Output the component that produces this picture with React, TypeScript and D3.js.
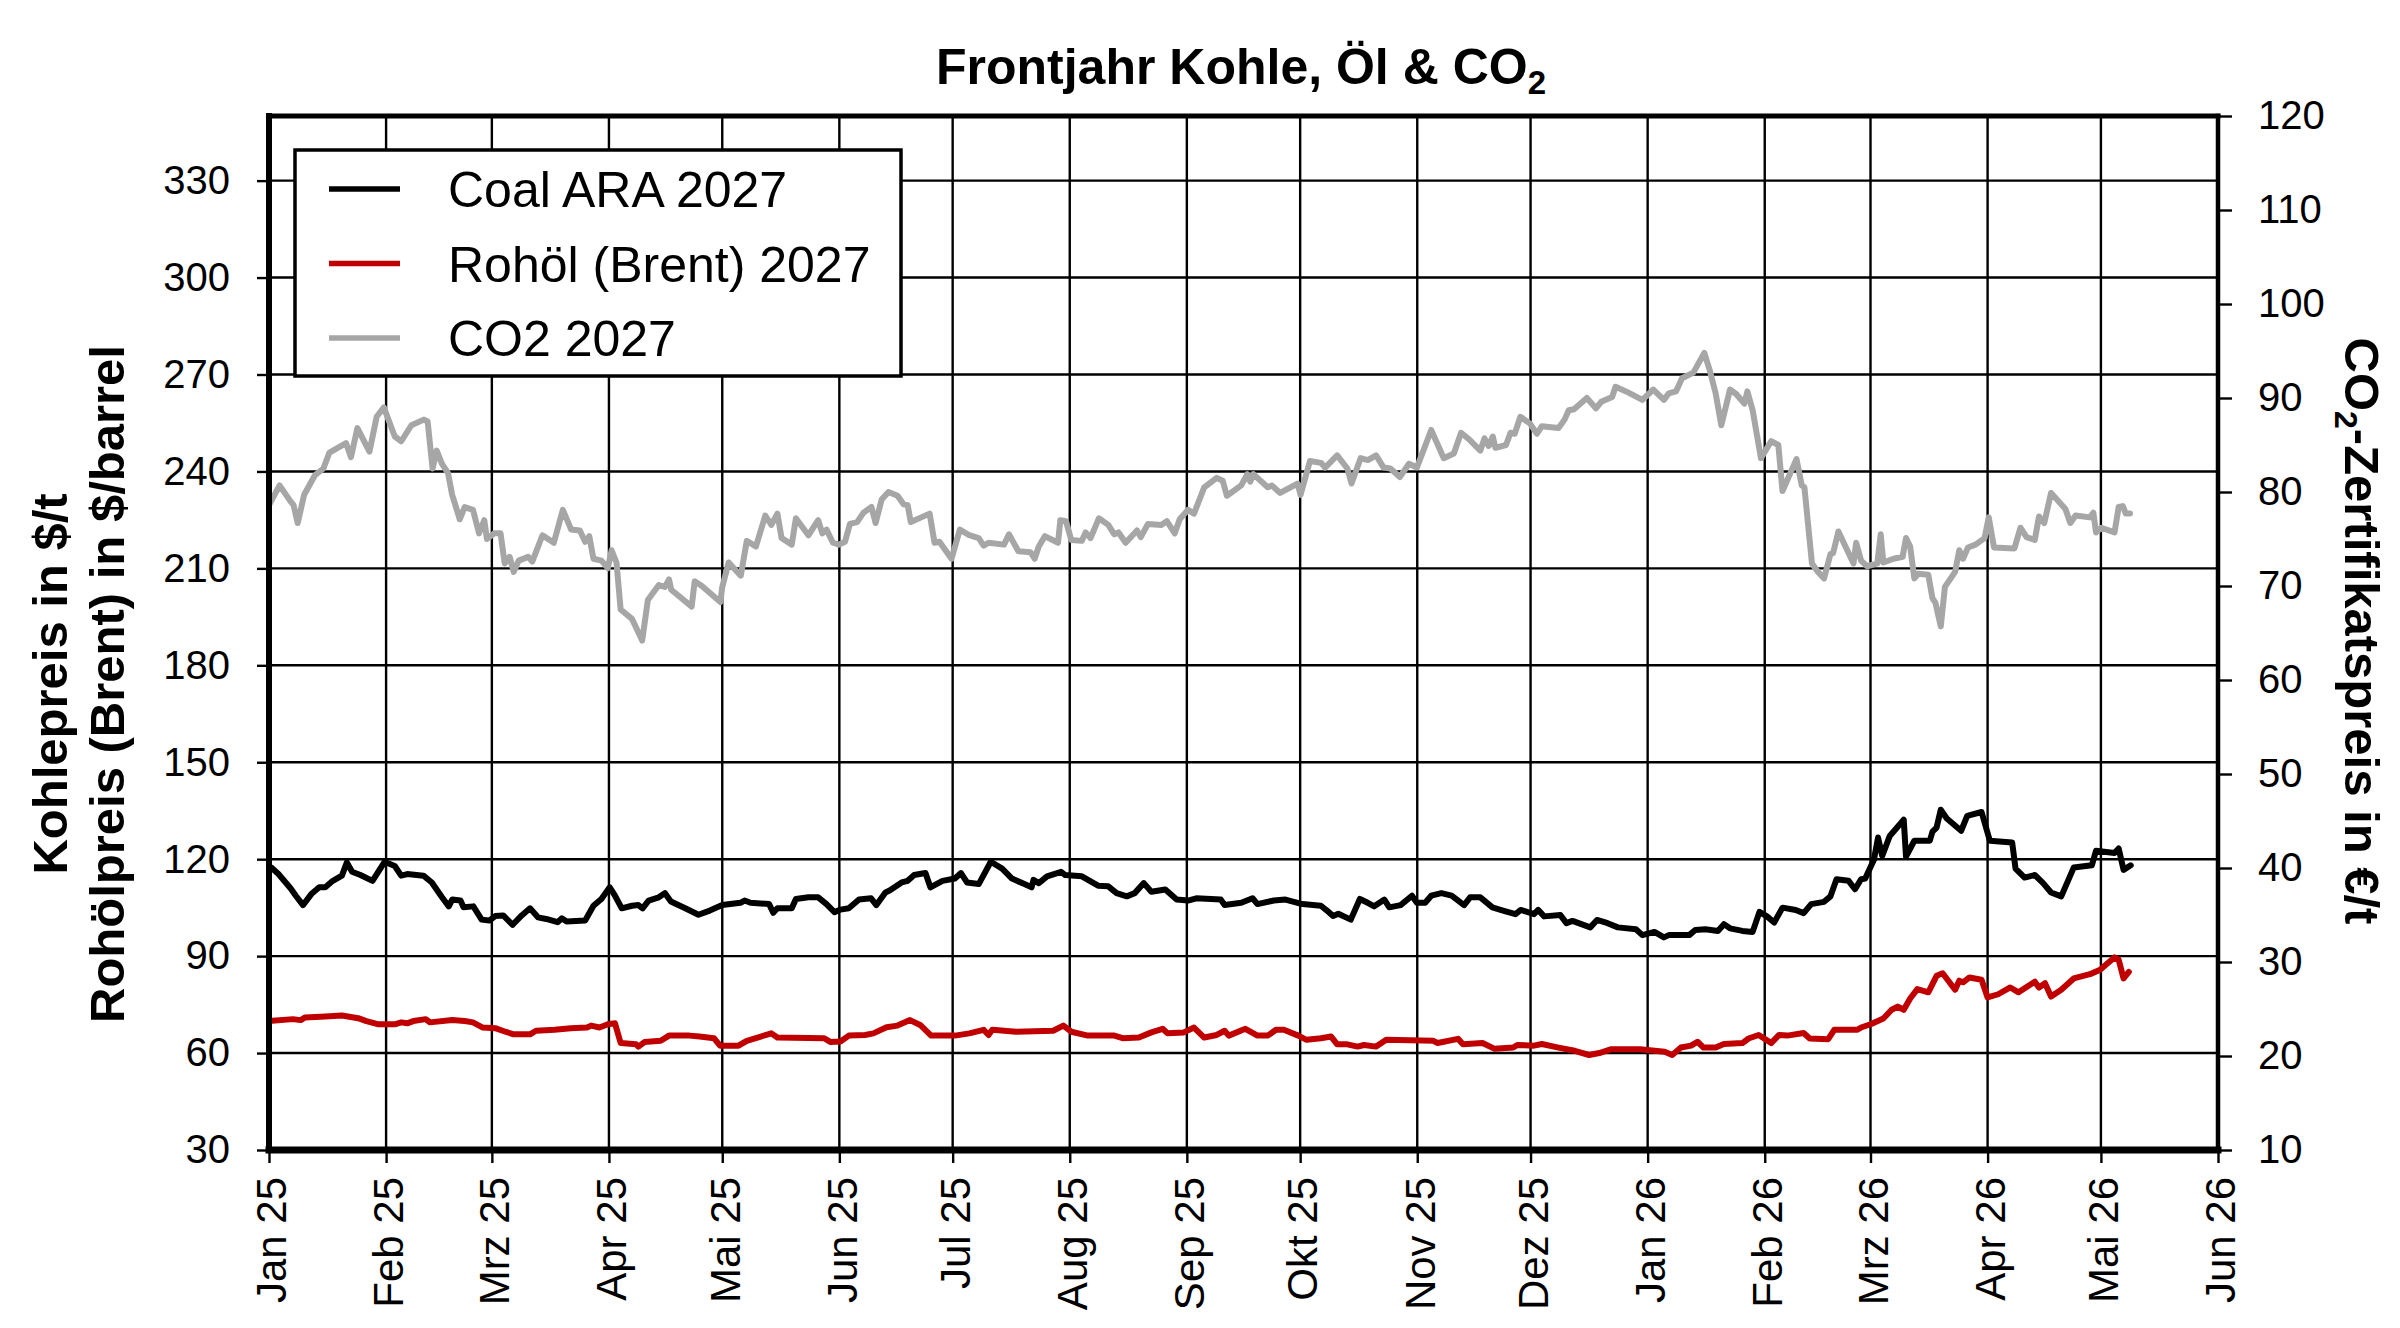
import { useEffect, useRef } from 'react'
import * as d3 from 'd3'

// Series: [days since 1 Jan 2025, value]
const coalSeries: [number, number][] = [
  [0.6, 117.4], [2.5, 115.4], [5.7, 111.0], [7.1, 108.7], [9, 105.8], [11.2, 109.2], [13.3, 111.3], [14.9, 111.3],
  [16.9, 113.3], [19.3, 114.9], [20.6, 119.0], [22, 116.1], [24.2, 115.1], [27.4, 113.3], [30.6, 119.2], [33.3, 117.9],
  [35, 114.9], [36.6, 115.4], [40.9, 114.9], [43.1, 112.8], [45.8, 108.2], [47.6, 105.4], [48.5, 107.5], [50.7, 107.2],
  [51.5, 105.1], [54.1, 105.4], [56.3, 101.3], [58.3, 101.0], [59.9, 102.4], [62, 102.6], [64.5, 99.7], [66.9, 102.6],
  [69.1, 104.8], [71.2, 102.0], [73.4, 101.5], [76.4, 100.5], [77.5, 101.7], [78.8, 100.7], [83.7, 101.0], [85.9, 105.6],
  [88, 107.7], [90.2, 111.3], [91.6, 108.7], [93.4, 104.8], [96.1, 105.6], [97.8, 105.8], [98.9, 104.8], [100.5, 107.2],
  [103.2, 108.2], [104.8, 109.5], [106.4, 106.9], [110.2, 104.8], [113.7, 102.8], [116.7, 104.1], [120, 105.8], [124.8, 106.5],
  [125.9, 107.2], [127.5, 106.5], [132.4, 106.1], [133.5, 103.4], [134.6, 104.8], [138.4, 104.8], [139.5, 107.7], [142.8, 108.2],
  [145.4, 108.2], [147.6, 106.1], [149.7, 103.6], [151.3, 104.4], [153.5, 104.8], [156.2, 107.5], [159.4, 107.9], [160.8, 105.8],
  [163.2, 109.7], [164.3, 110.3], [167.5, 112.8], [169.1, 113.3], [170.8, 115.1], [173.8, 115.7], [175.1, 111.3], [178.3, 113.3],
  [181.6, 114.0], [183.2, 115.7], [184.8, 112.8], [187.9, 112.3], [191.1, 119.2], [194.1, 117.1], [196.7, 114.0], [200, 112.3],
  [201.9, 111.3], [202.4, 113.6], [203.8, 112.6], [206, 114.7], [209.7, 116.1], [210.8, 115.1], [215.2, 114.7], [219.5, 111.8],
  [222.2, 111.6], [224.4, 109.5], [227.1, 108.5], [229.2, 109.5], [231.6, 112.6], [233.6, 109.9], [237.3, 110.6], [240.3, 107.5],
  [243.3, 107.2], [245.5, 107.9], [252, 107.5], [253, 105.8], [257.4, 106.5], [260.4, 107.9], [261.7, 106.1], [266, 107.2],
  [269.1, 107.5], [273.6, 106.1], [278.5, 105.6], [280.1, 104.1], [281.7, 102.4], [283.1, 103.1], [286.4, 101.3], [288.8, 107.7],
  [290.9, 106.5], [292.6, 105.4], [295.3, 107.5], [296.6, 105.1], [299.6, 105.8], [302.6, 108.7], [303.9, 106.5], [306.1, 106.5],
  [307.7, 108.7], [310.4, 109.5], [313.1, 108.7], [316.4, 105.8], [318, 108.2], [320.7, 108.2], [323.9, 105.1], [326.7, 104.1],
  [330, 103.0], [331.4, 104.3], [334.9, 103.0], [336, 104.3], [337.6, 102.3], [341.9, 102.7], [343.5, 100.2], [345.1, 100.9],
  [349.8, 98.9], [351.6, 101.2], [354.4, 100.2], [357.1, 98.9], [361.9, 98.3], [363.6, 96.5], [366.8, 97.5], [369.3, 95.8],
  [370.6, 96.5], [376, 96.5], [377.6, 98.1], [380.3, 98.3], [383.6, 97.8], [385.2, 99.9], [386.8, 98.6], [390.1, 97.8],
  [392.8, 97.5], [394.6, 103.7], [396.6, 102.3], [398.5, 100.4], [400.7, 105.0], [404.2, 104.3], [406.3, 103.3], [408.3, 106.1],
  [411.7, 106.8], [413.4, 108.5], [415, 113.8], [418.2, 113.3], [419.9, 110.7], [421.5, 113.8], [422.6, 114.0], [424.9, 119.8],
  [426, 126.7], [427.1, 121.0], [429.1, 127.2], [432.8, 132.2], [433.4, 120.8], [435.6, 125.7], [439.7, 125.7], [440.4, 128.5],
  [441.5, 129.8], [442.6, 135.3], [444.2, 132.6], [448, 128.8], [449.6, 133.4], [453.4, 134.6], [455.6, 125.7], [461.5, 125.2],
  [462.4, 117.1], [464.8, 114.3], [467.5, 115.1], [469.7, 112.6], [471.8, 109.7], [474.5, 108.5], [477.8, 117.4], [482.6, 118.1],
  [483.7, 122.6], [488.6, 121.9], [489.7, 123.3], [491, 116.7], [492.9, 118.1]
]

const oilSeries: [number, number][] = [
  [0, 69.9], [6.3, 70.5], [8.4, 70.2], [9.5, 71.0], [14.9, 71.3], [19.3, 71.6], [23.6, 70.8], [25.8, 69.9],
  [29, 68.9], [33.3, 68.9], [35, 69.5], [36.6, 69.2], [38.2, 69.9], [41.5, 70.5], [42.6, 69.5], [48.5, 70.2],
  [51.8, 69.9], [54, 69.5], [56.6, 67.9], [59.9, 67.7], [62.6, 66.6], [64.8, 65.8], [69.1, 65.8], [70.7, 66.9],
  [75.6, 67.2], [79.9, 67.7], [84.2, 67.9], [85.3, 68.5], [87.5, 67.9], [89.7, 68.9], [91.6, 69.2], [93.1, 63.1],
  [97.2, 62.7], [97.8, 62.0], [99.4, 63.4], [103.7, 63.8], [105.9, 65.4], [111.3, 65.4], [114, 65.1], [117.8, 64.6],
  [119.4, 62.3], [124.3, 62.3], [126.5, 63.8], [130.2, 65.1], [133, 66.1], [134.6, 64.8], [147, 64.6], [148.7, 63.4],
  [151.3, 63.6], [153.5, 65.4], [157.8, 65.6], [160, 66.1], [163.5, 68.0], [166.4, 68.5], [169.7, 70.2], [172.4, 68.7],
  [175.3, 65.4], [181.6, 65.4], [185.4, 66.1], [189.2, 67.2], [190.5, 65.6], [191.5, 67.2], [197.8, 66.6], [207.6, 66.9],
  [210.3, 68.5], [212.4, 66.6], [216.8, 65.4], [223.8, 65.4], [226, 64.6], [230.3, 64.8], [233.6, 66.4], [236.6, 67.5],
  [237.9, 66.1], [242.2, 66.4], [244.9, 67.9], [247.6, 64.8], [250.9, 65.6], [253, 66.9], [254.1, 65.4], [258.5, 67.5],
  [261.7, 65.4], [264.4, 65.4], [266.6, 67.2], [268.7, 67.2], [272.5, 65.4], [274.7, 64.1], [278.5, 64.6], [281.2, 65.1],
  [282.8, 62.7], [285.5, 62.7], [288.2, 62.0], [289.9, 62.5], [293.1, 62.0], [295.8, 64.1], [308.3, 63.8], [309.4, 63.1],
  [314.8, 64.4], [316.1, 62.7], [321.3, 63.1], [324.5, 61.3], [329.4, 61.7], [330.5, 62.5], [334.9, 62.3], [337, 62.8],
  [341.4, 61.7], [345.7, 60.7], [349.5, 59.4], [352.2, 60.0], [355.4, 61.2], [363, 61.2], [369.5, 60.4], [371.5, 59.4],
  [373.8, 61.7], [376.5, 62.3], [378.2, 63.5], [379.8, 61.7], [383, 61.7], [385.2, 62.8], [390.1, 63.1], [391.7, 64.5],
  [394.4, 65.6], [397.7, 63.1], [399.8, 65.6], [402, 65.4], [406.3, 66.2], [407.9, 64.5], [412.8, 64.3], [414.4, 67.2],
  [420.4, 67.2], [421.5, 67.9], [424.2, 69.0], [427.4, 70.7], [429.6, 73.4], [431.2, 74.4], [432.8, 73.4], [434.5, 76.9],
  [436.4, 79.8], [439.3, 78.8], [441.5, 83.9], [443.1, 84.7], [446.4, 79.6], [447.5, 82.4], [448.5, 81.9], [450.2, 83.4],
  [453.4, 82.7], [455, 77.2], [457.8, 78.2], [461, 80.3], [463.2, 78.8], [467.5, 82.1], [468.6, 80.3], [470.2, 81.6],
  [471.8, 77.5], [474.5, 79.6], [477.8, 83.1], [482.1, 84.4], [484.8, 85.8], [487, 88.0], [488.6, 89.6], [489.7, 88.9],
  [491, 83.1], [492.4, 85.1]
]

const co2Series: [number, number][] = [
  [0, 78.6], [2.8, 80.7], [5.7, 79.0], [6.5, 78.6], [7.6, 76.7], [9.3, 79.7], [12.2, 81.8], [14.4, 82.5],
  [16, 84.2], [20.4, 85.2], [21.7, 83.7], [23.4, 86.8], [26.6, 84.3], [28.5, 88.0], [30.4, 89.0], [33.3, 85.9],
  [35, 85.4], [37.7, 87.1], [41, 87.7], [42, 87.5], [43.3, 82.5], [44.4, 84.4], [45.8, 83.0], [47.4, 82.0],
  [48.5, 79.7], [50.5, 77.1], [51.8, 78.4], [54, 78.1], [55.6, 75.6], [57, 77.0], [57.7, 75.0], [59.6, 75.6],
  [61.3, 75.6], [62.4, 72.4], [63.7, 73.1], [64.8, 71.5], [66.1, 72.7], [68.6, 73.1], [69.7, 72.6], [72.4, 75.4],
  [75.4, 74.6], [77.8, 78.1], [80, 76.0], [82.3, 75.9], [83.7, 74.7], [84.8, 75.3], [85.9, 72.9], [88, 72.7],
  [89.7, 71.9], [90.7, 73.8], [92, 72.5], [93.1, 67.5], [96.1, 66.5], [97.4, 65.4], [98.8, 64.2], [100.3, 68.5],
  [103.2, 70.1], [104.8, 69.9], [105.9, 70.7], [106.5, 69.6], [111.9, 67.8], [112.7, 70.5], [114.6, 70.0], [119.5, 68.3],
  [120, 69.9], [121.7, 72.5], [124.9, 71.1], [126.5, 74.8], [128.9, 74.2], [131.4, 77.5], [133, 76.5], [134.6, 77.7],
  [135.7, 75.1], [138.4, 74.4], [139.5, 77.2], [142.8, 75.4], [145.4, 77.0], [146.5, 75.6], [147.6, 76.0], [149.3, 74.6],
  [150.9, 74.4], [152.5, 74.7], [153.8, 76.6], [155.7, 76.8], [157.4, 77.8], [159.5, 78.4], [160.6, 76.7], [162.2, 79.2],
  [164, 80.0], [166.4, 79.6], [168, 78.7], [169.1, 78.6], [169.9, 76.8], [174.9, 77.7], [176.2, 74.6], [177.5, 74.7],
  [180.7, 72.9], [182.9, 76.0], [185.4, 75.4], [187.9, 75.1], [189.2, 74.3], [190.5, 74.6], [194.6, 74.4], [195.9, 75.5],
  [198.4, 73.7], [201.6, 73.6], [202.7, 72.9], [203.8, 74.2], [205.4, 75.3], [208.9, 74.6], [209.5, 77.0], [211, 76.9],
  [212.4, 74.9], [215.2, 74.8], [216.2, 75.7], [217.5, 75.1], [219.7, 77.2], [222.2, 76.5], [223.8, 75.5], [224.9, 75.7],
  [226.8, 74.6], [229.8, 75.9], [230.8, 75.2], [232.7, 76.6], [236.3, 76.5], [237.7, 76.9], [239.8, 75.6], [241.1, 77.1],
  [243.3, 78.1], [244.9, 77.7], [247.6, 80.5], [250.9, 81.5], [252.5, 81.2], [253.6, 79.6], [257.4, 80.7], [259, 81.9],
  [259.8, 81.1], [260.6, 81.9], [264.4, 80.5], [265.5, 80.7], [267.7, 79.9], [272.3, 80.9], [273.1, 79.7], [275.6, 83.3],
  [278.5, 83.1], [279.6, 82.6], [282.8, 83.9], [285.5, 82.5], [286.6, 80.9], [289, 83.6], [290.9, 83.4], [293.1, 83.9],
  [295.1, 82.6], [296.9, 82.5], [299.4, 81.6], [301.8, 83.0], [303.9, 82.6], [307.7, 86.6], [311, 83.6], [313.7, 84.1],
  [315.6, 86.3], [318, 85.5], [320.7, 84.4], [321.8, 85.7], [322.9, 84.9], [324, 85.9], [324.7, 84.7], [327.5, 85.0],
  [328.7, 86.3], [329.8, 86.2], [331.3, 88.0], [333.8, 87.3], [335.7, 86.2], [337, 87.0], [341.4, 86.8], [343, 87.7],
  [344.1, 88.7], [345.5, 88.8], [348.9, 90.0], [351.3, 88.9], [352.7, 89.6], [355.6, 90.1], [356.5, 91.2], [359.8, 90.6],
  [363.6, 89.8], [366.5, 90.9], [369.3, 89.8], [370.6, 90.5], [372.5, 90.7], [374.1, 92.1], [377.1, 92.7], [380, 94.8],
  [381.4, 93.0], [383, 90.5], [384.5, 87.1], [386.8, 90.9], [388.5, 90.4], [390.6, 89.4], [391.4, 90.7], [392.8, 88.7],
  [395, 83.6], [397.7, 85.4], [399.6, 85.0], [400.7, 80.1], [404.4, 83.5], [405.8, 80.7], [406.5, 80.5], [408.5, 72.4],
  [410.1, 71.5], [411.7, 70.8], [413.4, 73.4], [414.1, 73.5], [415.5, 75.8], [419.5, 72.4], [420.2, 74.6], [421.5, 72.7],
  [423.1, 72.1], [425.8, 72.4], [426.7, 75.5], [427.4, 72.5], [430.1, 72.9], [432.5, 73.1], [433.4, 75.1], [434.5, 74.2],
  [435.6, 70.8], [436.6, 71.3], [439.3, 71.2], [440.4, 68.7], [441.2, 68.2], [442.6, 65.7], [443.7, 69.9], [446.4, 71.5],
  [447.5, 73.8], [448.5, 72.9], [449.8, 74.1], [451.8, 74.4], [454.2, 75.1], [455.3, 77.3], [456.7, 74.1], [462.1, 74.0],
  [463.7, 76.2], [465.3, 75.2], [467.5, 74.9], [468.6, 77.4], [470, 76.7], [471.8, 79.9], [475.6, 78.2], [476.9, 76.7],
  [478.3, 77.5], [482.1, 77.3], [483, 77.8], [483.7, 75.7], [485.1, 76.2], [488.6, 75.7], [489.7, 78.4], [490.8, 78.5],
  [491.6, 77.7], [492.7, 77.7]
]

const monthLabels = ['Jan', 'Feb', 'Mrz', 'Apr', 'Mai', 'Jun', 'Jul', 'Aug', 'Sep', 'Okt', 'Nov', 'Dez']
const leftTicks = [30, 60, 90, 120, 150, 180, 210, 240, 270, 300, 330]
const rightTicks = [10, 20, 30, 40, 50, 60, 70, 80, 90, 100, 110, 120]

const legendItems = [
  { label: 'Coal ARA 2027', color: '#000000' },
  { label: 'Rohöl (Brent) 2027', color: '#c00000' },
  { label: 'CO2 2027', color: '#a6a6a6' }
]

const FONT = "Arial, 'Liberation Sans', sans-serif"
const DAY = 86400000
const START = Date.UTC(2025, 0, 1)

export default function App() {
  const ref = useRef<SVGSVGElement>(null)

  useEffect(() => {
    if (!ref.current) return
    const svg = d3.select(ref.current)
    svg.selectAll('*').remove()

    const left = 269
    const right = 2218
    const top = 116
    const bottom = 1150

    const x = d3
      .scaleUtc()
      .domain([new Date(START), new Date(Date.UTC(2026, 5, 1))])
      .range([left, right])
    const yLeft = d3.scaleLinear().domain([30, 350]).range([bottom, top])
    const yRight = d3.scaleLinear().domain([10, 120]).range([bottom, top])

    const toDate = (d: number) => new Date(START + d * DAY)
    const months = x.ticks(d3.utcMonth.every(1) as any)

    svg.append('rect').attr('width', 2400).attr('height', 1328).attr('fill', '#fff')

    // Grid
    const grid = svg.append('g').attr('stroke', '#000').attr('stroke-width', 2.4)
    grid
      .selectAll('line.h')
      .data(leftTicks.slice(1))
      .join('line')
      .attr('x1', left)
      .attr('x2', right)
      .attr('y1', d => yLeft(d))
      .attr('y2', d => yLeft(d))
    grid
      .selectAll('line.v')
      .data(months.slice(1, -1))
      .join('line')
      .attr('x1', d => x(d))
      .attr('x2', d => x(d))
      .attr('y1', top)
      .attr('y2', bottom)

    // Axes
    const fmt = (d: Date) => `${monthLabels[d.getUTCMonth()]} ${String(d.getUTCFullYear()).slice(2)}`

    const xAxis = svg
      .append('g')
      .attr('transform', `translate(0,${bottom})`)
      .call(d3.axisBottom(x).tickValues(months).tickSize(13).tickFormat(fmt as any))
    xAxis
      .selectAll('text')
      .attr('transform', 'rotate(-90)')
      .attr('text-anchor', 'end')
      .attr('x', -27)
      .attr('y', 0)
      .attr('dy', '0.4em')
      .style('font-size', '42px')

    const yAxisL = svg
      .append('g')
      .attr('transform', `translate(${left},0)`)
      .call(d3.axisLeft(yLeft).tickValues(leftTicks).tickSize(12).tickPadding(27))
    yAxisL.selectAll('text').style('font-size', '40px')

    const yAxisR = svg
      .append('g')
      .attr('transform', `translate(${right},0)`)
      .call(d3.axisRight(yRight).tickValues(rightTicks).tickSize(14).tickPadding(26))
    yAxisR.selectAll('text').style('font-size', '40px')

    svg.selectAll('.domain').remove()
    svg.selectAll('.tick line').attr('stroke', '#000').attr('stroke-width', 2.4)
    svg.selectAll('.tick text').attr('fill', '#000').style('font-family', FONT)

    // Lines
    const lineL = d3
      .line<[number, number]>()
      .x(d => x(toDate(d[0])))
      .y(d => yLeft(d[1]))
    const lineR = d3
      .line<[number, number]>()
      .x(d => x(toDate(d[0])))
      .y(d => yRight(d[1]))

    const drawLine = (data: [number, number][], gen: any, color: string) =>
      svg
        .append('path')
        .datum(data)
        .attr('fill', 'none')
        .attr('stroke', color)
        .attr('stroke-width', 6)
        .attr('stroke-linejoin', 'round')
        .attr('stroke-linecap', 'round')
        .attr('d', gen)

    drawLine(co2Series, lineR, '#a6a6a6')
    drawLine(oilSeries, lineL, '#c00000')
    drawLine(coalSeries, lineL, '#000000')

    // Frame
    const frame = [
      { x1: left, y1: top, x2: right, y2: top, w: 5 },
      { x1: right, y1: top, x2: right, y2: bottom, w: 4.5 },
      { x1: left, y1: top, x2: left, y2: bottom, w: 6 },
      { x1: left, y1: bottom, x2: right, y2: bottom, w: 7 }
    ]
    svg
      .append('g')
      .selectAll('line')
      .data(frame)
      .join('line')
      .attr('x1', d => d.x1)
      .attr('y1', d => d.y1)
      .attr('x2', d => d.x2)
      .attr('y2', d => d.y2)
      .attr('stroke', '#000')
      .attr('stroke-width', d => d.w)
      .attr('stroke-linecap', 'square')

    // Legend
    const legend = svg.append('g')
    legend
      .append('rect')
      .attr('x', 295)
      .attr('y', 150)
      .attr('width', 606)
      .attr('height', 226)
      .attr('fill', '#fff')
      .attr('stroke', '#000')
      .attr('stroke-width', 3.5)
    legendItems.forEach((item, i) => {
      const cy = 189 + i * 74.5
      legend
        .append('line')
        .attr('x1', 329)
        .attr('x2', 400)
        .attr('y1', cy)
        .attr('y2', cy)
        .attr('stroke', item.color)
        .attr('stroke-width', 5.5)
      legend
        .append('text')
        .attr('x', 448)
        .attr('y', cy)
        .attr('dy', '0.36em')
        .style('font-family', FONT)
        .style('font-size', '50px')
        .text(item.label)
    })

    // Title
    const title = svg
      .append('text')
      .attr('x', 1241)
      .attr('y', 84)
      .attr('text-anchor', 'middle')
      .style('font-family', FONT)
      .style('font-size', '50px')
      .style('font-weight', 'bold')
    title.append('tspan').text('Frontjahr Kohle, Öl & CO')
    title.append('tspan').attr('dy', 10).style('font-size', '33px').text('2')

    // Left axis title
    const lt = svg
      .append('text')
      .attr('transform', 'translate(0,684) rotate(-90)')
      .attr('text-anchor', 'middle')
      .style('font-family', FONT)
      .style('font-size', '49px')
      .style('font-weight', 'bold')
    lt.append('tspan').attr('x', 0).attr('y', 67).text('Kohlepreis in $/t')
    lt.append('tspan').attr('x', 0).attr('y', 124).text('Rohölpreis (Brent) in $/barrel')

    // Right axis title
    const rt = svg
      .append('text')
      .attr('transform', 'translate(2345,631) rotate(90)')
      .attr('text-anchor', 'middle')
      .style('font-family', FONT)
      .style('font-size', '49px')
      .style('font-weight', 'bold')
    rt.append('tspan').text('CO')
    rt.append('tspan').attr('dy', 10).style('font-size', '32px').text('2')
    rt.append('tspan').attr('dy', -10).text('-Zertifikatspreis in €/t')
  }, [])

  return (
    <svg
      ref={ref}
      width={2400}
      height={1328}
      style={{ position: 'absolute', left: 0, top: 0, display: 'block' }}
    />
  )
}
